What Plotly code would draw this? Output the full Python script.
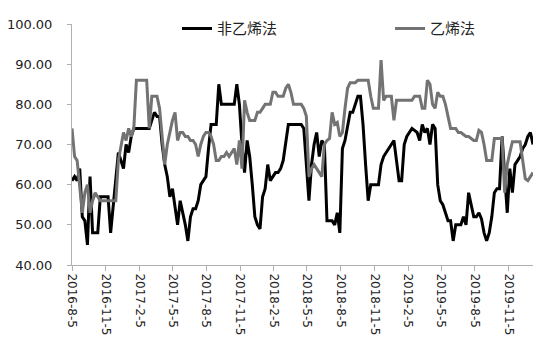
import pandas as pd
import plotly.graph_objects as go

start_date = "2016-08-05"
n_weeks = 180
dates = pd.date_range(start_date, periods=n_weeks, freq="7D")

non_ethylene = [
    61, 62, 61, 64, 52, 51, 45, 62, 48, 48,
    48, 57, 57, 57, 57, 48, 55, 60, 68, 66,
    64, 70, 68, 72, 74, 74, 74, 74, 74, 74,
    74, 76, 78, 77, 77, 70, 65, 62, 57, 59,
    55, 50, 56, 53, 50, 46, 52, 54, 54, 56,
    60, 61, 62, 69, 75, 75, 75, 85, 80, 80,
    80, 80, 80, 80, 85, 80, 70, 63, 71, 67,
    60, 52, 50, 49, 57, 59, 65, 61, 62, 63,
    63, 64, 66, 70, 75, 75, 75, 75, 75, 75,
    74, 65, 56, 65, 70, 73, 67, 71, 70, 51,
    51, 51, 50, 53, 48, 69, 71, 75, 78, 78,
    80, 82, 82, 75, 65, 56, 60, 60, 60, 60,
    65, 67, 68, 69, 70, 71, 66, 61, 61, 70,
    72, 73, 74, 73.5, 73, 71, 75, 73, 74, 70,
    75, 74, 60, 56, 55, 53, 51, 51, 46, 50,
    50, 50, 52, 50, 58, 55, 52, 52, 53, 51.5,
    48, 46, 48, 52, 58, 59, 59, 72, 63, 53,
    64, 58, 65, 66, 67, 69, 70, 72, 73, 70,
]

ethylene = [
    74, 67, 66, 60, 53, 58, 60, 53, 56, 58,
    57, 56, 56, 56, 56, 56, 56, 56, 66, 70,
    73, 71, 74, 72, 74, 86, 86, 86, 86, 86,
    74, 82, 82, 82, 79, 72, 65, 70, 73, 76,
    78, 71, 73, 73, 72, 72, 71, 71, 70, 67,
    70, 72, 73, 73, 72, 70, 66, 66, 67, 67,
    68, 67, 68, 69, 65, 71, 64, 81, 78, 76,
    76, 76, 78, 78, 79, 80, 80, 80, 83, 83,
    82, 82, 82, 84, 85, 83, 80, 80, 80, 80,
    79, 77, 62, 64, 65, 64, 63, 62, 70, 71,
    71.5, 78, 75, 75.5, 72, 73, 79, 84, 85.4, 85.4,
    85.4, 86, 86, 86, 86, 86, 82, 79, 79, 79,
    91, 81, 82, 82, 82, 76, 81, 81, 81, 81,
    81, 81, 81, 82, 82, 82, 79, 79, 86, 85,
    80, 79, 83, 82, 82, 80, 77, 74, 74, 74,
    73, 73, 72.5, 72, 72, 71.5, 71, 71, 73.5, 73,
    70, 66, 66, 66, 71.5, 71.5, 71.5, 71.5, 58, 65,
    68, 70.7, 70.7, 70.7, 70.7, 66, 61.5, 61, 62, 63,
]

tick_dates = ["2016-08-05", "2016-11-05", "2017-02-05", "2017-05-05", "2017-08-05",
              "2017-11-05", "2018-02-05", "2018-05-05", "2018-08-05", "2018-11-05",
              "2019-02-05", "2019-05-05", "2019-08-05", "2019-11-05"]
tick_labels = ["2016-8-5", "2016-11-5", "2017-2-5", "2017-5-5", "2017-8-5",
               "2017-11-5", "2018-2-5", "2018-5-5", "2018-8-5", "2018-11-5",
               "2019-2-5", "2019-5-5", "2019-8-5", "2019-11-5"]
y_ticks = [40, 50, 60, 70, 80, 90, 100]

fig = go.Figure()
fig.add_trace(go.Scatter(x=dates, y=non_ethylene, mode="lines", name="非乙烯法",
                         line=dict(color="#000000", width=3), legend="legend"))
fig.add_trace(go.Scatter(x=dates, y=ethylene, mode="lines", name="乙烯法",
                         line=dict(color="#737373", width=3), legend="legend2"))

legend_font = dict(family="Noto Sans CJK SC", size=15, color="#222222")
plot_w = 550 - 72 - 17
plot_h = 352 - 14 - 87
leg_y = (265 - 19) / plot_h
fig.update_layout(
    width=550, height=352,
    margin=dict(l=72, r=17, t=14, b=87),
    paper_bgcolor="white", plot_bgcolor="white",
    font=dict(family="DejaVu Sans", color="#222222"),
    showlegend=True,
    legend=dict(x=(177 - 72) / plot_w, y=leg_y, xanchor="left", yanchor="middle",
                orientation="h", font=legend_font, bgcolor="rgba(0,0,0,0)"),
    legend2=dict(x=(390 - 72) / plot_w, y=leg_y, xanchor="left", yanchor="middle",
                 orientation="h", font=legend_font, bgcolor="rgba(0,0,0,0)"),
    xaxis=dict(
        type="date",
        range=[dates[0], dates[-1]],
        tickvals=tick_dates, ticktext=tick_labels,
        tickangle=90,
        tickfont=dict(family="DejaVu Sans", size=12, color="#222222"),
        showgrid=False, zeroline=False,
        showline=True, linecolor="#b0b0b0", linewidth=1,
        ticks="outside", ticklen=5, tickcolor="#b0b0b0",
        automargin=False,
    ),
    yaxis=dict(
        range=[40, 100],
        tickvals=y_ticks, tickformat=".2f",
        tickfont=dict(family="DejaVu Sans", size=13, color="#222222"),
        showgrid=False, zeroline=False,
        showline=True, linecolor="#b0b0b0", linewidth=1,
        ticks="outside", ticklen=4, tickcolor="#b0b0b0",
        ticklabelstandoff=12,
        automargin=False,
    ),
)

fig.write_html("out.html")
